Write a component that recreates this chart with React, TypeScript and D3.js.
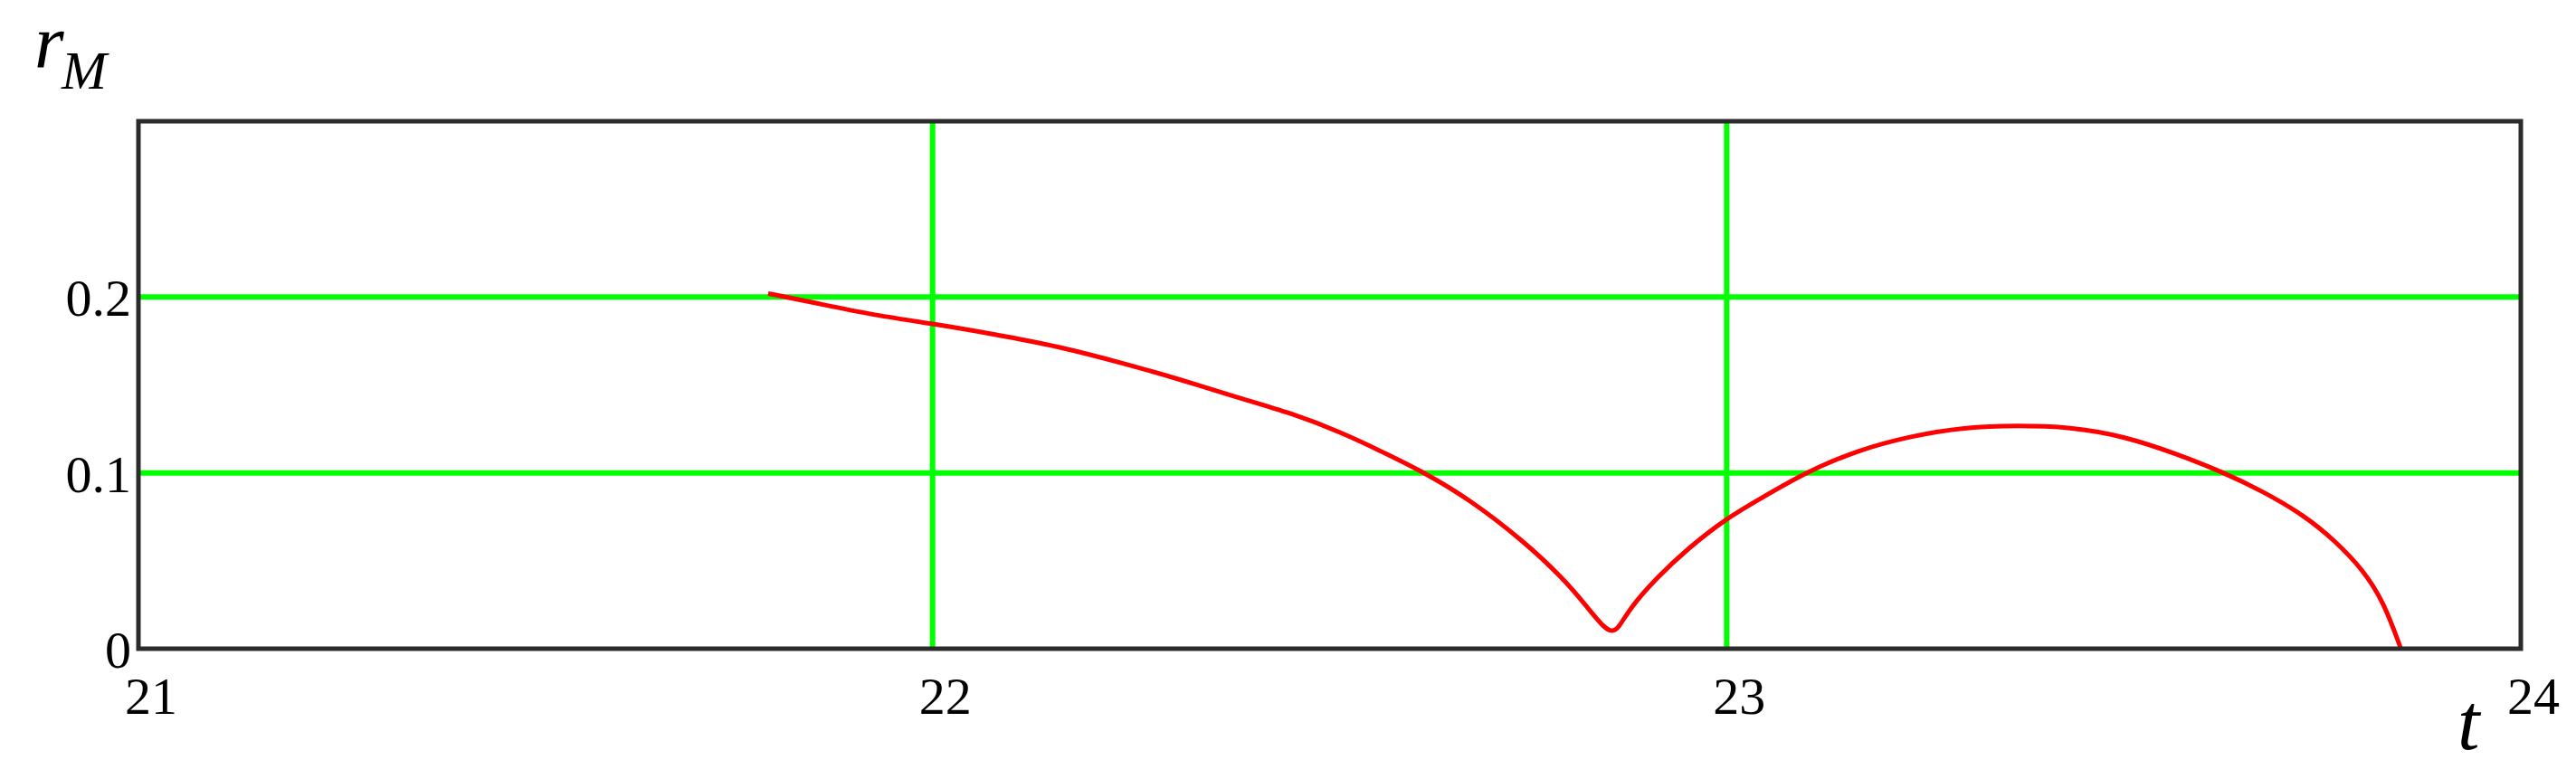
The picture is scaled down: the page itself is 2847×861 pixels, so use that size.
import React from 'react';
import * as d3 from 'd3';

const WIDTH = 2847;
const HEIGHT = 861;
const PLOT = { left: 153, right: 2786, top: 134, bottom: 717 };

// time values
const tValues = [
  21.793, 21.849, 21.922, 21.998, 22.076, 22.159, 22.243, 22.313, 22.383, 22.452,
  22.515, 22.571, 22.62, 22.676, 22.745, 22.794, 22.822, 22.847, 22.856, 22.863,
  22.878, 22.911, 22.951, 22.999, 23.045, 23.098, 23.165, 23.232, 23.299, 23.366,
  23.436, 23.499, 23.566, 23.627, 23.673, 23.727, 23.767, 23.801, 23.827, 23.849,
];
const rValues = [
  0.202, 0.197, 0.19, 0.185, 0.179, 0.172, 0.162, 0.153, 0.143, 0.134,
  0.123, 0.111, 0.1, 0.085, 0.061, 0.04, 0.025, 0.011, 0.01, 0.011,
  0.023, 0.04, 0.057, 0.074, 0.086, 0.1, 0.113, 0.121, 0.126, 0.127,
  0.126, 0.121, 0.111, 0.1, 0.09, 0.076, 0.061, 0.045, 0.027, 0.0,
];

const xTicks = [21, 22, 23, 24];
const xGrid = [22, 23];
const yTicks = [0, 0.1, 0.2];
const yGrid = [0.1, 0.2];

const FONT = '"Liberation Serif", "Times New Roman", serif';

const App = () => {
  const x = d3.scaleLinear().domain([21, 24]).range([PLOT.left, PLOT.right]);
  const y = d3.scaleLinear().domain([0, 0.3]).range([PLOT.bottom, PLOT.top]);

  const points: [number, number][] = tValues.map((t, i) => [t, rValues[i]]);
  const line = d3
    .line<[number, number]>()
    .x((d) => x(d[0]))
    .y((d) => y(d[1]))
    .curve(d3.curveBasis);

  return (
    <svg
      width={WIDTH}
      height={HEIGHT}
      style={{ position: 'absolute', left: 0, top: 0, background: '#fff' }}
    >
      {/* grid */}
      {xGrid.map((v) => (
        <line key={'gx' + v} x1={x(v)} x2={x(v)} y1={PLOT.top} y2={PLOT.bottom}
          stroke="#00ff00" strokeWidth={6} />
      ))}
      {yGrid.map((v) => (
        <line key={'gy' + v} x1={PLOT.left} x2={PLOT.right} y1={y(v)} y2={y(v)}
          stroke="#00ff00" strokeWidth={6} />
      ))}

      {/* curve */}
      <path d={line(points) || ''} fill="none" stroke="#ff0000" strokeWidth={5}
        strokeLinejoin="round" />

      {/* frame */}
      <rect x={PLOT.left} y={PLOT.top} width={PLOT.right - PLOT.left}
        height={PLOT.bottom - PLOT.top} fill="none" stroke="#2b2b2b" strokeWidth={5} />

      {/* tick labels */}
      {xTicks.map((v) => (
        <text key={'tx' + v} x={x(v) + 14} y={789} textAnchor="middle"
          fontFamily={FONT} fontSize={58} fill="#000">{v}</text>
      ))}
      {yTicks.map((v) => (
        <text key={'ty' + v} x={145} y={y(v) + 21} textAnchor="end"
          fontFamily={FONT} fontSize={58} fill="#000">{v}</text>
      ))}

      {/* axis titles */}
      <text x={38} y={75} fontFamily={FONT} fontStyle="italic" fontSize={84} fill="#000">r</text>
      <text x={68} y={98} fontFamily={FONT} fontStyle="italic" fontSize={60} fill="#000">M</text>
      <text x={2716} y={828} fontFamily={FONT} fontStyle="italic" fontSize={88} fill="#000">t</text>
    </svg>
  );
};

export default App;
